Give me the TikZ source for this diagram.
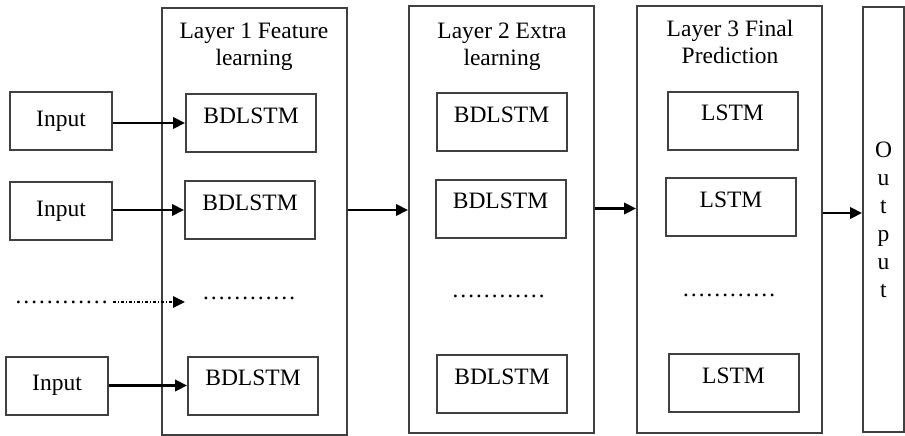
\documentclass[tikz,border=0pt]{standalone}
\usepackage{fontspec}
\setmainfont{Liberation Serif}
\usetikzlibrary{arrows.meta,calc}
\definecolor{boxgray}{RGB}{64,64,64}

\begin{document}
\begin{tikzpicture}[x=1pt, y=-1pt, >={Triangle[length=12pt,width=11.5pt]},
    font=\fontsize{23.5}{27}\selectfont,
    layer/.style={draw=boxgray, line width=2pt, minimum width=185pt, minimum height=427pt, inner sep=0pt},
    cell/.style={draw=boxgray, line width=2pt, minimum width=130pt, inner sep=0pt, text height=29pt, text depth=29pt},
    inbox/.style={draw=boxgray, line width=2pt, minimum width=102pt, minimum height=58pt, inner sep=0pt},
    arr/.style={->, line width=2.2pt},
    title/.style={anchor=north, align=center, inner sep=0pt}]
    \useasboundingbox (0,0) rectangle (905,436);

    % 三层外框 + 输出框
    \node[layer] (L1) at (254.5,221.5) {};
    \node[layer] (L2) at (501.5,219.5) {};
    \node[layer] (L3) at (729.5,219.5) {};
    \node[layer, minimum width=41pt, minimum height=425pt,
          font=\fontsize{23.5}{28}\selectfont, align=center] (out) at (883.5,219.5) {O\\u\\t\\p\\u\\t};

    % 层标题
    \node[title] (t1) at (254,23) {Layer 1 Feature\\learning};
    \node[title] (t2) at (502,23) {Layer 2 Extra\\learning};
    \node[title] (t3) at (730,20) {Layer 3 Final\\Prediction};

    % 输入
    \node[inbox] (in1) at (61,121) {Input};
    \node[inbox] (in2) at (61,211) {Input};
    \node[inbox] (in3) at (57,385.5) {Input};
    \node[inner sep=0pt] (indots) at (61.5,302) {…………};

    % 第一层 BDLSTM
    \node[cell] (a1) at (251,123) {BDLSTM};
    \node[cell] (a2) at (250,210) {BDLSTM};
    \node[inner sep=0pt] (a3) at (249,298) {…………};
    \node[cell] (a4) at (253,385.5) {BDLSTM};

    % 第二层 BDLSTM
    \node[cell] (b1) at (501.5,122) {BDLSTM};
    \node[cell] (b2) at (500.5,208.5) {BDLSTM};
    \node[inner sep=0pt] (b3) at (498.5,296) {…………};
    \node[cell] (b4) at (502,384) {BDLSTM};

    % 第三层 LSTM
    \node[cell] (c1) at (732.5,121) {LSTM};
    \node[cell] (c2) at (731,207) {LSTM};
    \node[inner sep=0pt] (c3) at (729,295) {…………};
    \node[cell] (c4) at (733.5,383) {LSTM};

    % 箭头
    \draw[arr] (in1.east |- a1) -- (a1.west);
    \draw[arr] (in2.east |- a2) -- (a2.west);
    \draw[arr] (in3.east |- a4) -- (a4.west);
    \draw[arr, line width=1.2pt, dash pattern=on 3pt off 2pt on 1pt off 2pt] ($(indots.east)+(4,0)$) -- (indots -| a1.west);
    \draw[arr] (L1.east |- a2) -- (L2.west |- a2);
    \draw[arr] (L2.east |- b2) -- (L3.west |- b2);
    \draw[arr] ($(L3.east |- c2)+(0,6)$) -- ($(out.west |- c2)+(0,6)$);
\end{tikzpicture}
\end{document}
